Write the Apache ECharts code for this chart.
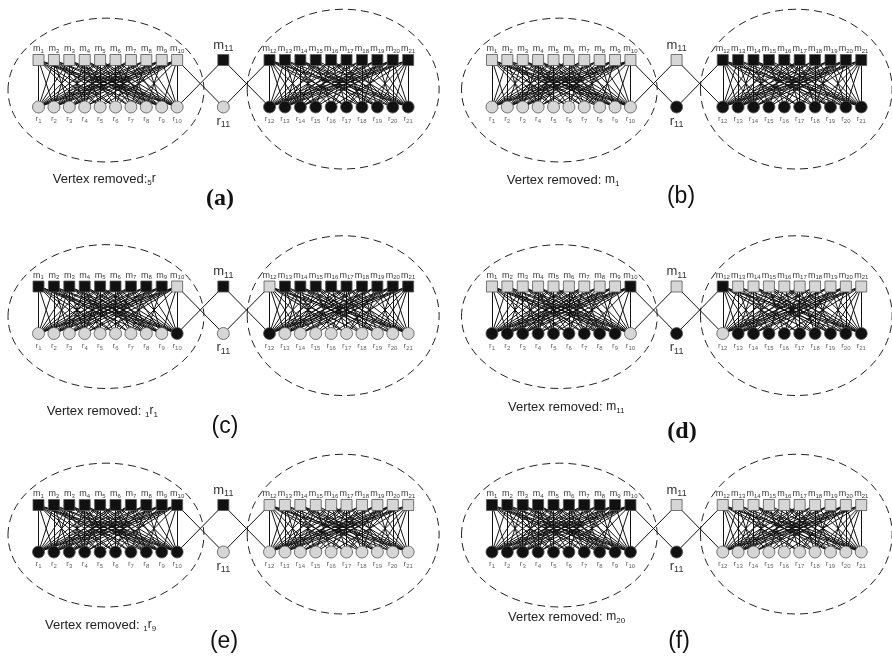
<!DOCTYPE html>
<html><head><meta charset="utf-8">
<script src="https://cdn.jsdelivr.net/npm/echarts@6/dist/echarts.min.js"></script>
<style>html,body{margin:0;padding:0;background:#fff}#c{width:892px;height:660px}</style>
</head><body><div id="c"></div>
<script>
// ---------------- data ----------------
const panelNames = ['a', 'b', 'c', 'd', 'e', 'f'];
// horizontal slot of each node (m1..m21 and r1..r21)
const mSlots = [0, 1, 2, 3, 4, 5, 6, 7, 8, 9, 12, 15, 16, 17, 18, 19, 20, 21, 22, 23, 24];
const rSlots = [0, 1, 2, 3, 4, 5, 6, 7, 8, 9, 12, 15, 16, 17, 18, 19, 20, 21, 22, 23, 24];
const mRow = 0, rRow = 1;
// edges inside the left cluster: m_i -> r_j  (1-based)
const leftEdges = [
  [1, [1, 2, 4, 5, 6, 8, 9, 10]],
  [2, [1, 2, 3, 5, 6, 7, 9, 10]],
  [3, [1, 2, 3, 4, 7, 8, 9, 10]],
  [4, [1, 3, 4, 5, 6, 8, 9, 10]],
  [5, [1, 2, 4, 5, 7, 8, 9, 10]],
  [6, [1, 2, 3, 6, 7, 8, 10]],
  [7, [1, 2, 3, 4, 6, 8, 9, 10]],
  [8, [1, 2, 3, 5, 7, 9, 10]],
  [9, [1, 2, 3, 4, 6, 8, 10]],
  [10, [1, 2, 3, 4, 5, 7, 9, 10]]
];
// edges inside the right cluster: m_i -> r_j (1-based)
const rightEdges = [
  [12, [12, 13, 14, 15, 17, 18, 20, 21]],
  [13, [12, 13, 14, 16, 17, 19, 21]],
  [14, [12, 13, 14, 15, 18, 19, 20, 21]],
  [15, [12, 13, 14, 16, 18, 19, 21]],
  [16, [12, 13, 15, 17, 19, 20, 21]],
  [17, [12, 13, 14, 16, 17, 18, 20, 21]],
  [18, [12, 13, 15, 16, 18, 19, 21]],
  [19, [12, 13, 14, 17, 18, 20, 21]],
  [20, [12, 13, 14, 15, 17, 19, 20, 21]],
  [21, [12, 13, 14, 16, 18, 19, 20, 21]]
];
// bridge edges [m, r]
const bridgeEdges = [[10, 11], [11, 10], [11, 12], [12, 11]];
// node colours per panel: 1 = black, 0 = grey
const mColors = {
  a: [0,0,0,0,0,0,0,0,0,0,1,1,1,1,1,1,1,1,1,1,1],
  b: [0,0,0,0,0,0,0,0,0,0,0,1,1,1,1,1,1,1,1,1,1],
  c: [1,1,1,1,1,1,1,1,1,0,1,0,1,1,1,1,1,1,1,1,1],
  d: [0,0,0,0,0,0,0,0,0,1,0,1,0,0,0,0,0,0,0,0,0],
  e: [1,1,1,1,1,1,1,1,1,1,1,0,0,0,0,0,0,0,0,0,0],
  f: [1,1,1,1,1,1,1,1,1,1,0,0,0,0,0,0,0,0,0,0,0]
};
const rColors = {
  a: [0,0,0,0,0,0,0,0,0,0,0,1,1,1,1,1,1,1,1,1,1],
  b: [0,0,0,0,0,0,0,0,0,0,1,1,1,1,1,1,1,1,1,1,1],
  c: [0,0,0,0,0,0,0,0,0,1,0,1,0,0,0,0,0,0,0,0,0],
  d: [1,1,1,1,1,1,1,1,1,0,1,0,1,1,1,1,1,1,1,1,1],
  e: [1,1,1,1,1,1,1,1,1,1,0,0,0,0,0,0,0,0,0,0,0],
  f: [1,1,1,1,1,1,1,1,1,1,1,0,0,0,0,0,0,0,0,0,0]
};
// dashed cluster ellipses [cx, cy, rx, ry] in slot / row units
const leftEllipse = [4.38, 0.64, 6.36, 1.53];
const rightEllipse = [19.78, 0.62, 6.23, 1.70];
// captions
const captionPrefix = { a: 'Vertex removed:', b: 'Vertex removed: ', c: 'Vertex removed: ', d: 'Vertex removed: ', e: 'Vertex removed: ', f: 'Vertex removed: ' };
const captionTokens = {
  a: [['s', '5'], ['v', 'r']],
  b: [['v', 'm'], ['s', '1']],
  c: [['s', '1'], ['v', 'r'], ['s', '1']],
  d: [['v', 'm'], ['s', '11']],
  e: [['s', '1'], ['v', 'r'], ['s', '9']],
  f: [['v', 'm'], ['s', '20']]
};
const panelLabels = ['(a)', '(b)', '(c)', '(d)', '(e)', '(f)'];
const boldSerifPanels = ['a', 'd'];

// ---------------- layout / style ----------------
const PX_X = 15.42, PX_Y = 47;
const panelOrigin = { a: [0, 0], b: [454, 0], c: [0, 226.5], d: [454, 226.5], e: [0, 445], f: [454, 445] };
const captionPos = { a: [52.7, 179], b: [506.7, 180], c: [46.7, 411], d: [508, 407], e: [45, 625], f: [508, 617] };
const labelPos = { a: [220, 199], b: [681, 197], c: [225, 427], d: [682, 432], e: [224, 642], f: [679, 642] };
const BLACK = '#111', GREY = '#d6d6d6';
const FONT = '"Liberation Sans", Arial, sans-serif';

const smallRichM = {
  v: { fontSize: 9, color: '#3a3a3a', fontFamily: FONT },
  s: { fontSize: 6, color: '#3a3a3a', fontFamily: FONT, padding: [5, 0, 0, 0] }
};
const smallRichR = {
  v: { fontSize: 8, color: '#666', fontFamily: FONT },
  s: { fontSize: 6, color: '#666', fontFamily: FONT, padding: [5, 0, 0, 0] }
};
const bigRich = {
  v: { fontSize: 13, color: '#333', fontFamily: FONT },
  s: { fontSize: 9, color: '#333', fontFamily: FONT, padding: [7, 0, 0, 0] }
};

const grids = [], xAxes = [], yAxes = [], series = [], graphics = [];

panelNames.forEach((p, pi) => {
  const [ox, oy] = panelOrigin[p];
  grids.push({ left: ox - 0.5, top: oy + 1.25, width: 28.5 * PX_X, height: 4.5 * PX_Y });
  xAxes.push({ gridIndex: pi, type: 'value', min: -2.5, max: 26, show: false });
  yAxes.push({ gridIndex: pi, type: 'value', min: -1.25, max: 3.25, inverse: true, show: false });

  const nodes = [];
  mSlots.forEach((s, i) => {
    const big = i === 10;
    nodes.push({
      name: 'm' + (i + 1),
      value: [s, mRow],
      symbol: 'rect',
      symbolSize: 11,
      itemStyle: { color: mColors[p][i] ? BLACK : GREY, borderColor: '#555', borderWidth: 0.8 },
      label: {
        show: true, position: 'top', distance: big ? 1 : 0,
        formatter: '{v|m}{s|' + (i + 1) + '}',
        rich: big ? bigRich : smallRichM
      }
    });
  });
  rSlots.forEach((s, i) => {
    const big = i === 10;
    nodes.push({
      name: 'r' + (i + 1),
      value: [s, rRow],
      symbol: 'circle',
      symbolSize: 12,
      itemStyle: { color: rColors[p][i] ? BLACK : GREY, borderColor: '#555', borderWidth: 0.8 },
      label: {
        show: true, position: 'bottom', distance: 0,
        formatter: '{v|r}{s|' + (i + 1) + '}',
        rich: big ? bigRich : smallRichR
      }
    });
  });
  const links = [];
  leftEdges.concat(rightEdges).forEach(([m, rs]) => {
    rs.forEach(r => links.push({ source: 'm' + m, target: 'r' + r }));
  });
  bridgeEdges.forEach(([m, r]) => links.push({ source: 'm' + m, target: 'r' + r }));

  series.push({
    type: 'custom', coordinateSystem: 'cartesian2d', xAxisIndex: pi, yAxisIndex: pi,
    silent: true, z: 1, animation: false,
    data: [leftEllipse, rightEllipse],
    encode: { x: 0, y: 1 },
    renderItem: (params, api) => {
      const c = api.coord([api.value(0), api.value(1)]);
      const sz = api.size([api.value(2), api.value(3)]);
      return {
        type: 'ellipse',
        shape: { cx: c[0], cy: c[1], rx: sz[0], ry: sz[1] },
        style: { fill: 'none', stroke: '#222', lineWidth: 1, lineDash: [8, 5] }
      };
    }
  });
  series.push({
    type: 'graph', coordinateSystem: 'cartesian2d', xAxisIndex: pi, yAxisIndex: pi,
    layout: 'none', silent: true, z: 2, animation: false,
    data: nodes, links: links,
    lineStyle: { color: '#111', width: 1, opacity: 1, curveness: 0 },
    emphasis: { disabled: true }
  });

  // caption
  const rich = {
    t: { fontSize: 13, fontFamily: FONT, fill: '#222' },
    v: { fontSize: 12, fontFamily: FONT, fill: '#222' },
    s: { fontSize: 8, fontFamily: FONT, fill: '#222', padding: [7, 0, 0, 0] }
  };
  const capText = '{t|' + captionPrefix[p] + '}' + captionTokens[p].map(([k, t]) => '{' + k + '|' + t + '}').join('');
  graphics.push({
    type: 'text', x: captionPos[p][0], y: captionPos[p][1], silent: true,
    style: { text: capText, rich: rich, verticalAlign: 'middle', align: 'left' }
  });
  const bold = boldSerifPanels.includes(p);
  graphics.push({
    type: 'text', x: labelPos[p][0], y: labelPos[p][1], silent: true,
    style: {
      text: panelLabels[pi],
      font: bold ? 'bold 24px "Liberation Serif", "Times New Roman", serif' : '23px ' + FONT,
      fill: '#111', align: 'center', verticalAlign: 'middle'
    }
  });
});

const chart = echarts.init(document.getElementById('c'), null, { renderer: 'canvas' });
chart.setOption({
  animation: false,
  backgroundColor: '#fff',
  grid: grids, xAxis: xAxes, yAxis: yAxes,
  series: series,
  graphic: graphics
});
</script></body></html>
